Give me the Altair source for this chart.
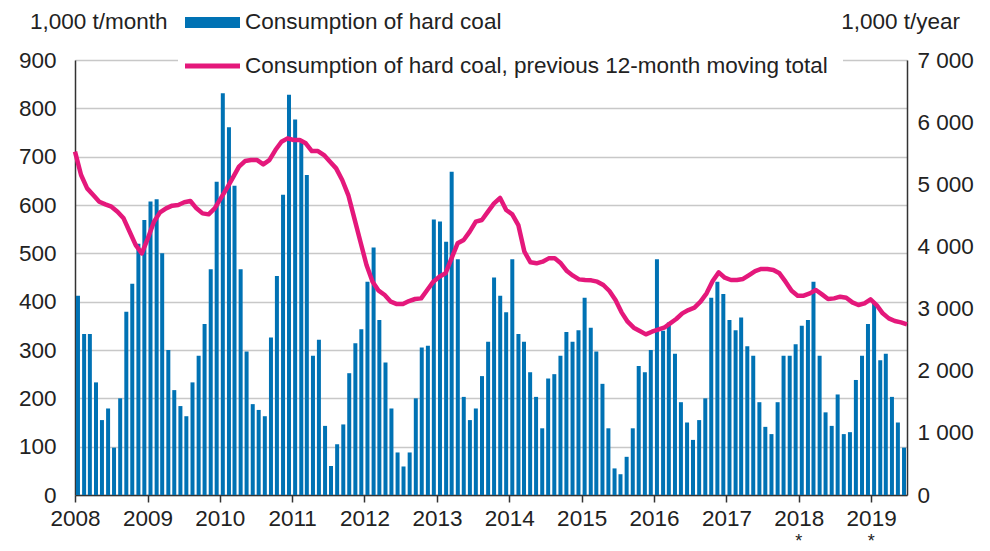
import altair as alt
import pandas as pd

# Monthly consumption of hard coal, 1,000 t/month (Jan 2008 - Jun 2019)
monthly = [
    412, 333, 333, 233, 155, 179, 98, 200, 379, 437, 520, 569,   # 2008
    607, 612, 500, 300, 217, 184, 163, 233, 288, 354, 467, 648,   # 2009
    831, 761, 640, 467, 297, 188, 176, 163, 326, 453, 621, 828,   # 2010
    777, 730, 662, 288, 321, 143, 60, 105, 146, 252, 314, 343,    # 2011
    441, 512, 362, 274, 179, 88, 59, 88, 200, 305, 309, 570,      # 2012
    566, 524, 669, 488, 203, 155, 179, 246, 317, 450, 412, 378,   # 2013
    488, 333, 317, 254, 203, 138, 241, 250, 288, 337, 317, 341,   # 2014
    408, 346, 297, 230, 138, 55, 43, 79, 138, 267, 254, 300,      # 2015
    488, 340, 357, 292, 192, 150, 114, 155, 200, 408, 441, 416,   # 2016
    362, 341, 367, 308, 288, 192, 141, 126, 192, 288, 288, 312,   # 2017
    350, 362, 441, 288, 171, 143, 208, 126, 130, 238, 288, 354,   # 2018
    399, 279, 292, 203, 150, 98,                                  # 2019
]

# Previous 12-month moving total, 1,000 t/year
moving_total = [
    5525, 5149, 4934, 4827, 4720, 4677, 4640, 4559, 4452, 4237, 4022, 3888,
    4130, 4398, 4548, 4613, 4656, 4667, 4710, 4731, 4613, 4532, 4516, 4613,
    4774, 4934, 5106, 5283, 5374, 5390, 5390, 5321, 5390, 5551, 5685, 5739,
    5712, 5712, 5659, 5535, 5535, 5471, 5364, 5256, 5069, 4827, 4452, 4076,
    3701, 3433, 3288, 3218, 3111, 3073, 3073, 3121, 3154, 3164, 3299, 3433,
    3513, 3567, 3808, 4050, 4104, 4238, 4398, 4425, 4559, 4693, 4780, 4586,
    4516, 4344, 3915, 3744, 3728, 3755, 3808, 3808, 3728, 3604, 3529, 3470,
    3460, 3454, 3433, 3379, 3283, 3138, 2939, 2789, 2692, 2638, 2585, 2628,
    2660, 2692, 2762, 2832, 2923, 2976, 3014, 3111, 3245, 3443, 3583, 3497,
    3460, 3460, 3476, 3540, 3604, 3637, 3637, 3621, 3567, 3433, 3288, 3208,
    3208, 3245, 3299, 3229, 3154, 3164, 3191, 3175, 3100, 3057, 3084, 3148,
    3057, 2923, 2842, 2799, 2778, 2746,
]

preliminary_years = ["2018-01-01", "2019-01-01"]

left_ticks = list(range(0, 901, 100))
right_ticks = list(range(0, 7001, 1000))

BLUE = "#0072b4"
PINK = "#e4187b"
FONT = "Liberation Sans"
FS = 22.5
TXT = "#222222"

month_starts = pd.date_range("2008-01-01", periods=len(monthly), freq="MS")
bars_df = pd.DataFrame({"date": month_starts + pd.Timedelta(days=15), "value": monthly})
line_df = pd.DataFrame({"idx": list(range(len(moving_total))), "total": moving_total})
star_df = pd.DataFrame({"date": pd.to_datetime(preliminary_years)})
one = pd.DataFrame({"a": [0]})

x_domain = [alt.DateTime(year=2008, month=1, date=1), alt.DateTime(year=2019, month=7, date=1)]

bars = alt.Chart(bars_df).mark_bar(color=BLUE, size=4).encode(
    x=alt.X("date:T", scale=alt.Scale(domain=x_domain, padding=0),
            axis=alt.Axis(format="%Y", tickCount={"interval": "year", "step": 1},
                          title=None, grid=False, tickSize=7, tickWidth=1.5,
                          tickColor="#333333", domainColor="#333333", domainWidth=1.5,
                          labelFontSize=FS, labelFont=FONT, labelColor=TXT,
                          labelPadding=5, labelFlush=False, labelOverlap=False)),
    y=alt.Y("value:Q", scale=alt.Scale(domain=[0, 900], nice=False),
            axis=alt.Axis(values=left_ticks, title=None, ticks=False, labelPadding=19,
                          labelFontSize=FS, labelFont=FONT, labelColor=TXT,
                          gridColor="#c8c8c8", gridWidth=1.5,
                          domainColor="#333333", domainWidth=1.5)),
)

line = alt.Chart(line_df).mark_line(color=PINK, strokeWidth=4.5, strokeJoin="round").encode(
    x=alt.X("idx:Q", scale=alt.Scale(domain=[0, len(moving_total) - 1], nice=False, zero=False, padding=0), axis=None),
    y=alt.Y("total:Q", scale=alt.Scale(domain=[0, 7000], nice=False),
            axis=alt.Axis(orient="right", values=right_ticks, title=None, ticks=False,
                          grid=False, labelPadding=10, labelFontSize=FS, labelFont=FONT,
                          labelColor=TXT, domainColor="#333333", domainWidth=1.5,
                          labelExpr="replace(format(datum.value, ','), ',', ' ')")),
)

stars = alt.Chart(star_df).mark_text(text="*", fontSize=18, font=FONT, color=TXT,
                                      baseline="alphabetic").encode(
    x=alt.X("date:T", scale=alt.Scale(domain=x_domain, padding=0), axis=None),
    y=alt.value(487),
)

legend_bg = alt.Chart(one).mark_rect(color="white").encode(
    x=alt.value(103), x2=alt.value(768), y=alt.value(-10), y2=alt.value(20))
legend_bar = alt.Chart(one).mark_rect(color=BLUE).encode(
    x=alt.value(110), x2=alt.value(165), y=alt.value(-43), y2=alt.value(-32))
legend_line = alt.Chart(one).mark_rule(color=PINK, strokeWidth=5).encode(
    x=alt.value(110), x2=alt.value(165), y=alt.value(6))

def label(txt, x, y, align="left"):
    return alt.Chart(one).mark_text(align=align, baseline="middle", fontSize=FS, font=FONT,
                                    color=TXT).encode(
        x=alt.value(x), y=alt.value(y), text=alt.value(txt))

texts = [
    label("Consumption of hard coal", 170, -38),
    label("Consumption of hard coal, previous 12-month moving total", 170, 6),
    label("1,000 t/month", -45, -38),
    label("1,000 t/year", 885, -38, align="right"),
]

chart = alt.layer(bars, line, stars, legend_bg, legend_bar, legend_line, *texts).resolve_scale(
    x="independent", y="independent"
).properties(
    width=832, height=435,
    padding={"left": 67, "top": 52, "right": 75, "bottom": 56},
    autosize=alt.AutoSizeParams(type="none"),
    background="white",
).configure_view(stroke=None)

chart.save("out.html", embed_options={"renderer": "svg", "actions": False})
